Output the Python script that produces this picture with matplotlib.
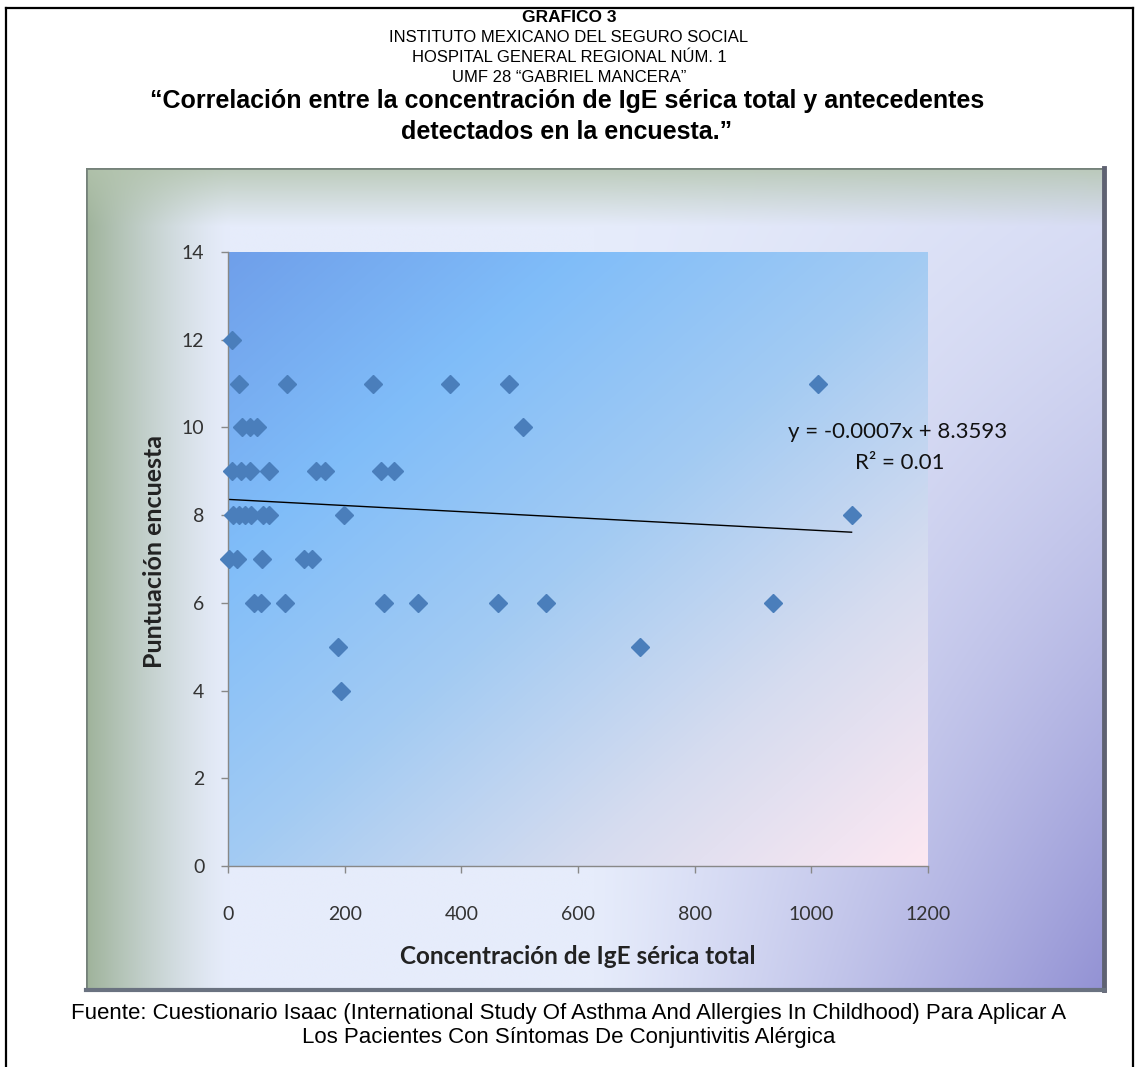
import numpy as np
import matplotlib
matplotlib.use('Agg')
import matplotlib.pyplot as plt
from matplotlib.lines import Line2D
from matplotlib.patches import Rectangle

# IgE sérica total (x) y puntuación de la encuesta (y), agrupados por puntuación
ige = [7,
       19, 101, 249, 381, 482, 1012,
       24, 37, 50, 506,
       6, 23, 38, 70, 150, 167, 262, 285,
       8, 18, 29, 40, 60, 70, 199, 1069,
       1, 15, 58, 131, 144,
       45, 57, 98, 267, 325, 463, 545, 935,
       189, 706,
       193]
puntuacion = [12,
              11, 11, 11, 11, 11, 11,
              10, 10, 10, 10,
              9, 9, 9, 9, 9, 9, 9, 9,
              8, 8, 8, 8, 8, 8, 8, 8,
              7, 7, 7, 7, 7,
              6, 6, 6, 6, 6, 6, 6, 6,
              5, 5,
              4]

# recta de tendencia lineal
pendiente = -0.0007
intercepto = 8.3593
r2 = 0.01

xticks = [0, 200, 400, 600, 800, 1000, 1200]
yticks = [0, 2, 4, 6, 8, 10, 12, 14]

W, H = 1138, 1067
fig = plt.figure(figsize=(W / 100, H / 100), dpi=100)
fig.patch.set_facecolor('white')


def fx(px):
    return px / W


def fy(py):
    return 1 - py / H


def mix(c1, c2, w):
    return c1 * (1 - w[..., None]) + c2 * w[..., None]


def hexrgb(h):
    h = h.lstrip('#')
    return np.array([int(h[i:i + 2], 16) / 255 for i in (0, 2, 4)])


# marco exterior (izquierda, arriba, derecha)
for seg in [((6, 6), (1067, 8)), ((6, 1133), (8, 8)), ((1133, 1133), (8, 1067))]:
    fig.add_artist(Line2D([fx(seg[0][0]), fx(seg[0][1])],
                          [fy(seg[1][0]), fy(seg[1][1])],
                          color='black', lw=1.6, transform=fig.transFigure))

# títulos
tf = 'Liberation Sans'
fig.text(0.5, fy(18), 'GRAFICO 3', ha='center', va='center',
         fontsize=12.5, fontweight='bold', family=tf)
for i, linea in enumerate(['INSTITUTO MEXICANO DEL SEGURO SOCIAL',
                           'HOSPITAL GENERAL REGIONAL NÚM. 1',
                           'UMF 28 “GABRIEL MANCERA”']):
    fig.text(0.5, fy(38 + 20 * i), linea, ha='center', va='center',
             fontsize=12, family=tf)
fig.text(0.498, fy(101), '“Correlación entre la concentración de IgE sérica total y antecedentes',
         ha='center', va='center', fontsize=18, fontweight='bold', family=tf)
fig.text(0.498, fy(132), 'detectados en la encuesta.”',
         ha='center', va='center', fontsize=18, fontweight='bold', family=tf)

# fondo del área del gráfico
px0, px1, py0, py1 = 86, 1104, 168, 990
bg = fig.add_axes([fx(px0), fy(py1), (px1 - px0) / W, (py1 - py0) / H])
n = 400
u = np.linspace(0, 1, n)[None, :] * np.ones((n, 1))
v = np.linspace(0, 1, n)[:, None] * np.ones((1, n))
claro = hexrgb('#e6ecfb')
img = np.ones((n, n, 3)) * claro
morado = hexrgb('#9392d4')
wm = np.clip((u - 0.5) / 0.5, 0, 1) ** 1.1 * (0.15 + 0.85 * v ** 1.3)
img = mix(img, morado, wm)
verde = hexrgb('#9fb39b')
wg = np.clip(1 - u / 0.14, 0, 1) ** 1.3
img = mix(img, verde, wg)
verde_sup = hexrgb('#b3c4ad')
wt = np.clip(1 - v / 0.07, 0, 1) * 0.8
img = mix(img, verde_sup, wt)
bg.imshow(img, aspect='auto', extent=[0, 1, 0, 1], interpolation='bilinear')
bg.add_patch(Rectangle((0, 0), 1, 1, transform=bg.transAxes, fill=False,
                       edgecolor='#75827a', lw=2))
# borde derecho e inferior más oscuros
bg.plot([1, 1], [0, 1], transform=bg.transAxes, color='#5f6272', lw=3.5, clip_on=False)
bg.plot([0, 1], [0, 0], transform=bg.transAxes, color='#6a7280', lw=3, clip_on=False)
bg.set_axis_off()

# área de trazado
ax = fig.add_axes([fx(228), fy(866), (928 - 228) / W, (866 - 252) / H])
ax.set_facecolor('none')
t = (u + v) / 2
paradas = [0.0, 0.25, 0.5, 0.75, 1.0]
colores = [hexrgb(c) for c in ['#6f9fea', '#80bdf9', '#a3cbf3', '#d6dcef', '#fde8f2']]
grad = np.stack([np.interp(t, paradas, [c[k] for c in colores]) for k in range(3)], axis=-1)
ax.imshow(grad, aspect='auto', extent=[0, 1200, 0, 14], interpolation='bilinear', zorder=0)

ax.plot(ige, puntuacion, 'D', ms=9, color='#4a7ebb', mec='#4a7ebb',
        clip_on=False, zorder=3)
xs = np.array([min(ige), max(ige)])
ax.plot(xs, pendiente * xs + intercepto, color='black', lw=1, zorder=2)

ax.set_xlim(0, 1200)
ax.set_ylim(0, 14)
ax.set_xticks(xticks)
ax.set_yticks(yticks)
cf = 'Lato'
ax.set_xticklabels([str(v_) for v_ in xticks], family=cf, fontsize=14, color='#333333')
ax.set_yticklabels([str(v_) for v_ in yticks], family=cf, fontsize=14, color='#333333')
ax.tick_params(axis='both', direction='out', length=5, color='#888888', width=1)
ax.tick_params(axis='x', pad=24)
ax.tick_params(axis='y', pad=12)
for lado in ['top', 'right']:
    ax.spines[lado].set_visible(False)
for lado in ['left', 'bottom']:
    ax.spines[lado].set_color('#888888')
    ax.spines[lado].set_linewidth(1)

fig.text(fx(155), fy(552), 'Puntuación encuesta', rotation=90, ha='center',
         va='center', fontsize=18, fontweight='bold', family=cf, color='#222222')
fig.text(fx(578), fy(957), 'Concentración de IgE sérica total', ha='center',
         va='center', fontsize=17.5, fontweight='bold', family=cf, color='#222222')

eq = f'y = {pendiente:.4f}x + {intercepto:.4f}'
fig.text(fx(898), fy(432), eq, ha='center', va='center', fontsize=16,
         family=cf, color='#111111')
fig.text(fx(900), fy(463), f'R² = {r2:.2f}', ha='center', va='center',
         fontsize=16, family=cf, color='#111111')

# fuente
fig.text(0.5, fy(1013), 'Fuente: Cuestionario Isaac (International Study Of Asthma And '
         'Allergies In Childhood) Para Aplicar A', ha='center', va='center',
         fontsize=16, family=tf)
fig.text(0.5, fy(1038), 'Los Pacientes Con Síntomas De Conjuntivitis Alérgica',
         ha='center', va='center', fontsize=16, family=tf)

fig.savefig('out.png', dpi=100)
